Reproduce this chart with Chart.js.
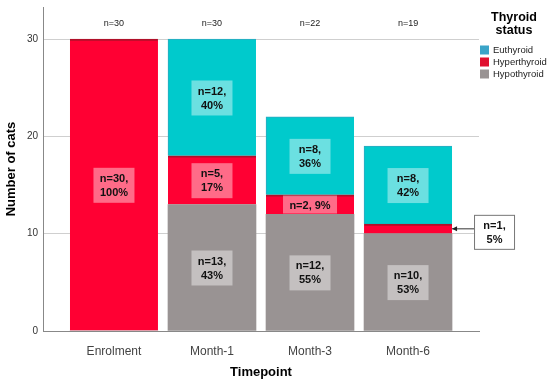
<!DOCTYPE html>
<html>
<head>
<meta charset="utf-8">
<script src="https://cdn.jsdelivr.net/npm/chart.js@4/dist/chart.umd.min.js"></script>
<style>
  body { margin: 0; background: #fff; }
  #wrap { width: 550px; height: 382px; }
</style>
</head>
<body>
<div id="wrap"><canvas id="thyroidChart" width="550" height="382"></canvas></div>
<script>
// Data
const categories = ['Enrolment', 'Month-1', 'Month-3', 'Month-6'];
const hypothyroid = [0, 13, 12, 10];
const hyperthyroid = [30, 5, 2, 1];
const euthyroid = [0, 12, 8, 8];
const totals = [30, 30, 22, 19];
const yTicks = [0, 10, 20, 30];

const FONT = "'Liberation Sans', Arial, sans-serif";
const colors = {
    hypo: '#999393',
    hyper: '#FF0033',
    eu: '#00CACC'
};

function toPoints(arr) {
    return arr.map((v, i) => ({ x: i, y: v }));
}

// Labels in the middle of each segment
const segmentLabels = {
    id: 'segmentLabels',
    afterDatasetsDraw(chart) {
        const ctx = chart.ctx;
        const yScale = chart.scales.y;
        ctx.save();
        chart.data.datasets.forEach((ds, d) => {
            const meta = chart.getDatasetMeta(d);
            meta.data.forEach((bar, i) => {
                const v = ds.data[i].y;
                if (!v) return;
                const pct = Math.round(v / totals[i] * 100);
                const top = Math.min(bar.y, bar.base);
                const h = Math.abs(bar.base - bar.y);
                const cy = top + h / 2;
                ctx.font = 'bold 11px ' + FONT;
                ctx.textAlign = 'center';
                ctx.textBaseline = 'middle';
                if (v === 1) {
                    // callout to the right of the bar
                    const edge = bar.x + bar.width / 2;
                    const bx = edge + 22;
                    const by = cy - 14;
                    ctx.strokeStyle = '#333';
                    ctx.lineWidth = 1;
                    ctx.beginPath();
                    ctx.moveTo(bx, cy);
                    ctx.lineTo(edge, cy);
                    ctx.stroke();
                    ctx.fillStyle = '#222';
                    ctx.beginPath();
                    ctx.moveTo(edge, cy);
                    ctx.lineTo(edge + 5, cy - 2.5);
                    ctx.lineTo(edge + 5, cy + 2.5);
                    ctx.closePath();
                    ctx.fill();
                    ctx.fillStyle = '#fff';
                    ctx.fillRect(bx, by, 41, 35);
                    ctx.strokeStyle = '#777';
                    ctx.strokeRect(bx + 0.5, by + 0.5, 40, 34);
                    ctx.fillStyle = '#111';
                    ctx.fillText('n=' + v + ',', bx + 20.5, by + 11);
                    ctx.fillText(pct + '%', bx + 20.5, by + 25);
                } else if (h < 25) {
                    ctx.fillStyle = 'rgba(255,255,255,0.42)';
                    ctx.fillRect(bar.x - 27, cy - 9, 54, 18);
                    ctx.fillStyle = '#111';
                    ctx.fillText('n=' + v + ', ' + pct + '%', bar.x, cy + 1);
                } else {
                    ctx.fillStyle = 'rgba(255,255,255,0.42)';
                    ctx.fillRect(bar.x - 20.5, cy - 17, 41, 35);
                    ctx.fillStyle = '#111';
                    ctx.fillText('n=' + v + ',', bar.x, cy - 6);
                    ctx.fillText(pct + '%', bar.x, cy + 8);
                }
            });
        });
        // totals above the bars
        const xScale = chart.scales.x;
        ctx.font = '9px ' + FONT;
        ctx.fillStyle = '#222';
        ctx.textAlign = 'center';
        ctx.textBaseline = 'middle';
        totals.forEach((t, i) => {
            ctx.fillText('n=' + t, xScale.getPixelForValue(i), yScale.getPixelForValue(31.6));
        });
        ctx.restore();
    }
};

// Legend on the right
const sideLegend = {
    id: 'sideLegend',
    afterDraw(chart) {
        const ctx = chart.ctx;
        ctx.save();
        ctx.fillStyle = '#000';
        ctx.font = 'bold 12.5px ' + FONT;
        ctx.textAlign = 'center';
        ctx.textBaseline = 'middle';
        ctx.fillText('Thyroid', 514, 18);
        ctx.fillText('status', 514, 31);
        const items = [
            ['Euthyroid', '#3AA4C8', 50],
            ['Hyperthyroid', '#E0102F', 62],
            ['Hypothyroid', colors.hypo, 74]
        ];
        ctx.font = '9.5px ' + FONT;
        ctx.textAlign = 'left';
        items.forEach(([name, col, y]) => {
            ctx.fillStyle = col;
            ctx.fillRect(480, y - 4.5, 9, 9);
            ctx.fillStyle = '#222';
            ctx.fillText(name, 493, y);
        });
        ctx.restore();
    }
};

new Chart(document.getElementById('thyroidChart'), {
    type: 'bar',
    data: {
        datasets: [
            { label: 'Hypothyroid', data: toPoints(hypothyroid), backgroundColor: colors.hypo, borderColor: '#8e8888', borderWidth: 0 },
            { label: 'Hyperthyroid', data: toPoints(hyperthyroid), backgroundColor: colors.hyper, borderColor: '#b0102a', borderWidth: { top: 2, bottom: 2, left: 0, right: 0 } },
            { label: 'Euthyroid', data: toPoints(euthyroid), backgroundColor: colors.eu, borderColor: '#30a8c0', borderWidth: { top: 1, left: 1, right: 0, bottom: 0 } }
        ]
    },
    options: {
        responsive: false,
        animation: false,
        layout: { padding: { top: 7, right: 71, left: 0, bottom: 0 } },
        barThickness: 88,
        plugins: {
            legend: { display: false },
            tooltip: { enabled: false }
        },
        scales: {
            x: {
                type: 'linear',
                stacked: true,
                offset: false,
                min: -0.724,
                max: 3.724,
                afterBuildTicks: s => { s.ticks = categories.map((c, i) => ({ value: i })); },
                afterFit: s => { s.height = 51; s.paddingLeft = 0; s.paddingRight = 0; },
                grid: { display: false },
                border: { display: true, color: '#888' },
                ticks: {
                    callback: v => categories[v],
                    font: { family: FONT, size: 12 },
                    color: '#444',
                    padding: 5,
                    maxRotation: 0
                },
                title: {
                    display: true,
                    text: 'Timepoint',
                    font: { family: FONT, size: 13, weight: 'bold' },
                    color: '#000',
                    padding: { top: 0, bottom: 2 }
                }
            },
            y: {
                stacked: true,
                min: 0,
                max: 33.3,
                afterBuildTicks: s => { s.ticks = yTicks.map(v => ({ value: v })); },
                afterFit: s => { s.width = 43; s.paddingTop = 0; s.paddingBottom = 0; },
                grid: { color: '#cfcfcf', drawTicks: false },
                border: { display: true, color: '#888' },
                ticks: {
                    font: { family: FONT, size: 10 },
                    color: '#333',
                    padding: 5
                },
                title: {
                    display: true,
                    text: 'Number of cats',
                    font: { family: FONT, size: 13, weight: 'bold' },
                    color: '#000',
                    padding: { top: 4, bottom: 0 }
                }
            }
        }
    },
    plugins: [segmentLabels, sideLegend]
});
</script>
</body>
</html>
